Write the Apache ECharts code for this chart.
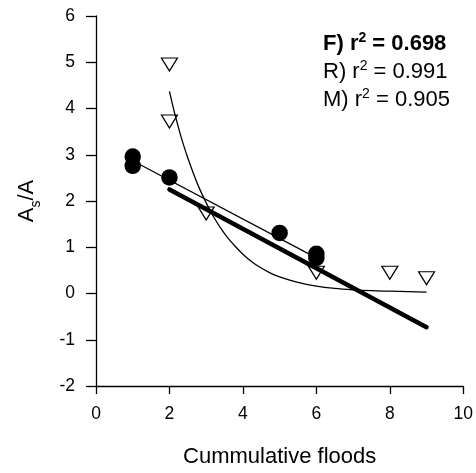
<!DOCTYPE html>
<html>
<head>
<meta charset="utf-8">
<script src="https://cdn.jsdelivr.net/npm/echarts@6/dist/echarts.min.js"></script>
<style>
  html, body { margin: 0; padding: 0; background: #fff; }
  #chart { width: 476px; height: 473px; }
</style>
</head>
<body>
<div id="chart"></div>
<script>
// Filled circles: relative area per flood count
const circleX = [1, 1, 2, 5, 6, 6];
const circleY = [2.96, 2.76, 2.51, 1.31, 0.86, 0.77];

// Open inverted triangles
const triX = [2, 2, 3, 6, 8, 9];
const triY = [4.95, 3.72, 1.73, 0.45, 0.45, 0.33];

// Linear fit through the circles (thin line), endpoints
const fitRX = [1, 6];
const fitRY = [2.87, 0.77];

// Linear fit, bold line, endpoints
const fitFX = [2, 9];
const fitFY = [2.25, -0.73];

// Decay curve through the triangles
const curveX = [2, 2.1, 2.2, 2.3, 2.4, 2.5, 2.65, 2.8, 3, 3.2, 3.4, 3.6, 3.8, 4, 4.25, 4.5, 4.75, 5, 5.5, 6, 6.5, 7, 7.5, 8, 8.5, 9];
const curveY = [4.37, 4.03, 3.72, 3.43, 3.17, 2.93, 2.6, 2.3, 1.96, 1.66, 1.41, 1.19, 1.01, 0.85, 0.68, 0.55, 0.44, 0.36, 0.24, 0.16, 0.11, 0.08, 0.06, 0.05, 0.04, 0.03];

// Axis ticks
const xTicks = [0, 2, 4, 6, 8, 10];
const yTicks = [-2, -1, 0, 1, 2, 3, 4, 5, 6];

const FONT = '"Liberation Sans", Arial, Helvetica, sans-serif';
const pairs = (xs, ys) => xs.map((x, i) => [x, ys[i]]);

const chart = echarts.init(document.getElementById('chart'), null, { renderer: 'canvas' });

const richBold = {
  b: { fontFamily: FONT, fontSize: 22, fontWeight: 'bold', fill: '#000', lineHeight: 26 },
  bs: { fontFamily: FONT, fontSize: 14, fontWeight: 'bold', fill: '#000', verticalAlign: 'top', lineHeight: 26 }
};
const richPlain = {
  n: { fontFamily: FONT, fontSize: 22, fill: '#000', lineHeight: 26 },
  s: { fontFamily: FONT, fontSize: 14, fill: '#000', verticalAlign: 'top', lineHeight: 26 }
};

chart.setOption({
  backgroundColor: '#ffffff',
  animation: false,
  grid: { left: 96, right: 11, top: 16, height: 370.5, containLabel: false },
  xAxis: {
    type: 'value',
    min: xTicks[0], max: xTicks[xTicks.length - 1], interval: 2,
    name: 'Cummulative floods',
    nameLocation: 'middle',
    nameGap: 60,
    nameTextStyle: { fontFamily: FONT, fontSize: 22, color: '#000' },
    axisLine: { show: true, onZero: false, lineStyle: { color: '#000', width: 1.3 } },
    axisTick: { show: true, inside: false, length: 8, lineStyle: { color: '#000', width: 1.3 } },
    axisLabel: { fontFamily: FONT, fontSize: 17.5, color: '#000', margin: 19 },
    splitLine: { show: false }
  },
  yAxis: {
    type: 'value',
    min: yTicks[0], max: yTicks[yTicks.length - 1], interval: 1,
    name: '{n|A}{sub|s}{n|/A}',
    nameLocation: 'middle',
    nameGap: 55,
    nameRotate: 90,
    nameTextStyle: {
      fontFamily: FONT, fontSize: 22, color: '#000',
      rich: {
        n: { fontFamily: FONT, fontSize: 22, color: '#000', lineHeight: 28 },
        sub: { fontFamily: FONT, fontSize: 14, color: '#000', verticalAlign: 'bottom', lineHeight: 28, padding: [0, 0, -2, 0] }
      }
    },
    axisLine: { show: true, onZero: false, lineStyle: { color: '#000', width: 1.3 } },
    axisTick: { show: true, inside: false, length: 10, lineStyle: { color: '#000', width: 1.3 } },
    axisLabel: { fontFamily: FONT, fontSize: 17.5, color: '#000', margin: 21 },
    splitLine: { show: false }
  },
  series: [
    {
      name: 'triangles',
      type: 'scatter',
      z: 2,
      symbol: 'triangle',
      symbolRotate: 180,
      symbolSize: [16, 13],
      itemStyle: { color: '#fff', borderColor: '#000', borderWidth: 1.2, opacity: 1 },
      data: pairs(triX, triY)
    },
    {
      name: 'curve',
      type: 'line',
      z: 3,
      smooth: 0.3,
      showSymbol: false,
      symbol: 'none',
      lineStyle: { color: '#000', width: 1.3 },
      data: pairs(curveX, curveY)
    },
    {
      name: 'fitF',
      type: 'line',
      z: 3,
      showSymbol: false,
      symbol: 'none',
      lineStyle: { color: '#000', width: 4.5, cap: 'round' },
      data: pairs(fitFX, fitFY)
    },
    {
      name: 'fitR',
      type: 'line',
      z: 3,
      showSymbol: false,
      symbol: 'none',
      lineStyle: { color: '#000', width: 1.3 },
      data: pairs(fitRX, fitRY)
    },
    {
      name: 'circles',
      type: 'scatter',
      z: 4,
      symbol: 'circle',
      symbolSize: 16.5,
      itemStyle: { color: '#000', opacity: 1 },
      data: pairs(circleX, circleY)
    }
  ],
  graphic: [
    {
      type: 'text', left: 323, top: 31,
      style: { text: '{b|F) r}{bs|2}{b| = 0.698}', rich: richBold }
    },
    {
      type: 'text', left: 323, top: 59,
      style: { text: '{n|R) r}{s|2}{n| = 0.991}', rich: richPlain }
    },
    {
      type: 'text', left: 323, top: 87,
      style: { text: '{n|M) r}{s|2}{n| = 0.905}', rich: richPlain }
    }
  ]
});
</script>
</body>
</html>
